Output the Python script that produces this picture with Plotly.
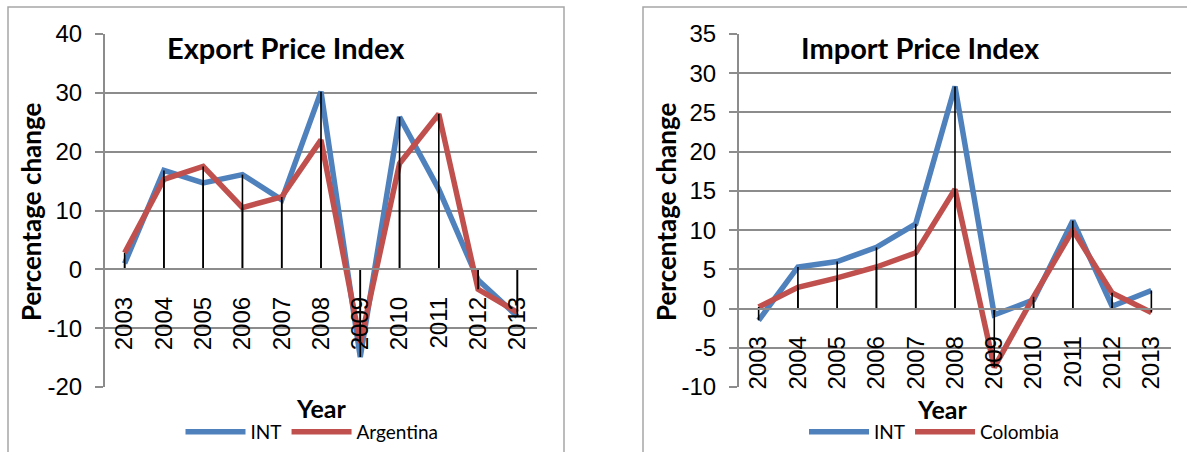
import plotly.graph_objects as go

# Year-on-year percentage change of price indices
years = ["2003", "2004", "2005", "2006", "2007", "2008",
         "2009", "2010", "2011", "2012", "2013"]

export_int = [1.0, 16.8, 14.7, 16.1, 11.8, 30.2, -14.9, 25.9, 13.6, -1.8, -8.0]
export_argentina = [2.8, 15.3, 17.5, 10.5, 12.3, 22.0, -12.5, 18.0, 26.4, -3.4, -7.3]

import_int = [-1.5, 5.3, 6.0, 7.8, 10.8, 28.3, -0.8, 1.1, 11.2, 0.3, 2.3]
import_colombia = [0.2, 2.7, 3.9, 5.3, 7.1, 15.2, -7.5, 1.5, 10.0, 2.0, -0.5]

# value-axis ticks (labels use a plain hyphen for negatives)
export_ticks = [-20, -10, 0, 10, 20, 30, 40]
import_ticks = [-10, -5, 0, 5, 10, 15, 20, 25, 30, 35]

W, H = 1187, 452
BLUE = "#4F81BD"
RED = "#C0504D"
GRID = "#8c8c8c"
FRAME = "#a6a6a6"
TICK_FONT = dict(family="Liberation Sans", size=24, color="black")
BOLD_FONT = dict(family="Lato", size=25, color="black", weight="bold")
YTITLE_FONT = dict(family="Lato", size=26, color="black", weight="bold")
TITLE_FONT = dict(family="Lato", size=29, color="black", weight="bold")


def fx(px):
    return px / W


def fy(px):
    return 1 - px / H


Y_DOMAIN = [fy(387), fy(34)]

fig = go.Figure()


def add_panel(n, int_vals, other_vals, other_name, other_color, legend):
    xa = "x" if n == 1 else f"x{n}"
    ya = "y" if n == 1 else f"y{n}"
    fig.add_trace(go.Scatter(x=years, y=int_vals, name="INT", mode="lines",
                             line=dict(color=BLUE, width=5.5),
                             xaxis=xa, yaxis=ya, legend=legend))
    fig.add_trace(go.Scatter(x=years, y=other_vals, name=other_name, mode="lines",
                             line=dict(color=other_color, width=5.5),
                             xaxis=xa, yaxis=ya, legend=legend))
    # drop lines from each point to the zero line
    dx, dy = [], []
    for yr, a, b in zip(years, int_vals, other_vals):
        for v in (a, b):
            dx += [yr, yr, None]
            dy += [0, v, None]
    fig.add_trace(go.Scatter(x=dx, y=dy, mode="lines",
                             line=dict(color="black", width=1.6),
                             showlegend=False, hoverinfo="skip",
                             xaxis=xa, yaxis=ya))


add_panel(1, export_int, export_argentina, "Argentina", RED, "legend")
add_panel(2, import_int, import_colombia, "Colombia", RED, "legend2")


def zero_position(lo, hi):
    return Y_DOMAIN[0] + (0 - lo) / (hi - lo) * (Y_DOMAIN[1] - Y_DOMAIN[0])


def x_axis(left, right, ticks):
    return dict(domain=[fx(left), fx(right)], anchor="free",
                position=zero_position(ticks[0], ticks[-1]), type="category",
                range=[-0.5, len(years) - 0.5],
                tickangle=-90, tickfont=TICK_FONT, ticks="",
                ticklabelstandoff=17,
                showgrid=False, showline=True, linecolor=GRID, linewidth=2,
                zeroline=False)


def y_axis(xa, ticks):
    return dict(domain=Y_DOMAIN, anchor=xa, range=[ticks[0], ticks[-1]],
                tickmode="array", tickvals=ticks,
                ticktext=[str(t) for t in ticks], tickfont=TICK_FONT,
                ticks="outside", ticklen=8, tickwidth=2, tickcolor=GRID,
                ticklabelstandoff=8,
                showgrid=True, gridcolor=GRID, gridwidth=2,
                showline=True, linecolor=GRID, linewidth=2, zeroline=False)


legend_style = dict(orientation="h", xanchor="center", yanchor="middle",
                    y=fy(432), font=dict(family="Lato", size=19, color="black"),
                    itemwidth=60, bgcolor="rgba(0,0,0,0)", traceorder="normal")


def label(text, x, y, font, angle=0):
    return dict(text=text, x=fx(x), y=fy(y), xref="paper", yref="paper",
                showarrow=False, xanchor="center", yanchor="middle",
                textangle=angle, font=font)


fig.update_layout(
    width=W, height=H,
    margin=dict(l=0, r=0, t=0, b=0, autoexpand=False),
    paper_bgcolor="white", plot_bgcolor="white",
    showlegend=True,
    xaxis=x_axis(105, 537, export_ticks),
    yaxis=y_axis("x", export_ticks),
    xaxis2=x_axis(739, 1171, import_ticks),
    yaxis2=y_axis("x2", import_ticks),
    legend=dict(legend_style, x=fx(312)),
    legend2=dict(legend_style, x=fx(934)),
    shapes=[
        dict(type="rect", xref="paper", yref="paper",
             x0=fx(8), x1=fx(564), y0=-0.05, y1=fy(7),
             line=dict(color=FRAME, width=1.5), layer="below"),
        dict(type="rect", xref="paper", yref="paper",
             x0=fx(643), x1=1.05, y0=-0.05, y1=fy(7),
             line=dict(color=FRAME, width=1.5), layer="below"),
    ],
    annotations=[
        label("Export Price Index", 286, 48, TITLE_FONT),
        label("Import Price Index", 920, 48, TITLE_FONT),
        label("Percentage change", 31, 212, YTITLE_FONT, -90),
        label("Percentage change", 666, 212, YTITLE_FONT, -90),
        label("Year", 321, 408, BOLD_FONT),
        label("Year", 942, 409, BOLD_FONT),
    ],
)

fig.write_html("out.html")
